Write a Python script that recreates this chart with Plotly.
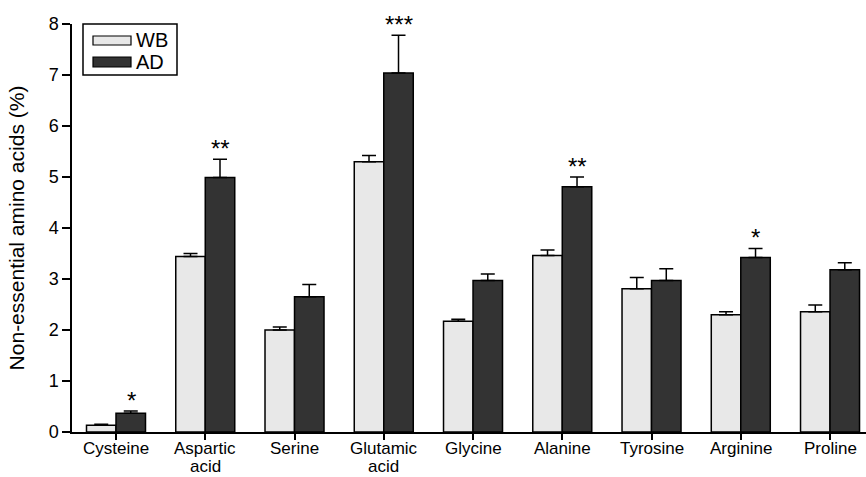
import plotly.graph_objects as go

categories = ["Cysteine", "Aspartic acid", "Serine", "Glutamic acid", "Glycine",
              "Alanine", "Tyrosine", "Arginine", "Proline"]
# how each category label is wrapped onto lines under the axis
label_lines = [["Cysteine"], ["Aspartic", "acid"], ["Serine"], ["Glutamic", "acid"], ["Glycine"],
               ["Alanine"], ["Tyrosine"], ["Arginine"], ["Proline"]]
wb_values = [0.13, 3.44, 2.00, 5.30, 2.17, 3.46, 2.81, 2.30, 2.36]
wb_errors = [0.02, 0.06, 0.06, 0.12, 0.04, 0.11, 0.22, 0.06, 0.13]
ad_values = [0.37, 4.99, 2.65, 7.04, 2.97, 4.81, 2.97, 3.42, 3.18]
ad_errors = [0.04, 0.36, 0.24, 0.74, 0.13, 0.19, 0.23, 0.18, 0.14]
significance = ["*", "**", "", "***", "", "**", "", "*", ""]
y_ticks = [0, 1, 2, 3, 4, 5, 6, 7, 8]

FONT = "Liberation Sans, Arial, Helvetica, sans-serif"
WB_COLOR = "#e8e8e8"
AD_COLOR = "#333333"

fig = go.Figure()
fig.add_trace(go.Bar(
    name="WB", x=categories, y=wb_values,
    marker=dict(color=WB_COLOR, line=dict(color="black", width=1.5)),
    error_y=dict(type="data", array=wb_errors, arrayminus=[0] * len(wb_errors),
                 symmetric=False, color="black", thickness=1.5, width=7),
))
fig.add_trace(go.Bar(
    name="AD", x=categories, y=ad_values,
    marker=dict(color=AD_COLOR, line=dict(color="black", width=1.5)),
    error_y=dict(type="data", array=ad_errors, arrayminus=[0] * len(ad_errors),
                 symmetric=False, color="black", thickness=1.5, width=7),
))

annotations = []
# significance stars above the AD bars
for cat, v, e, s in zip(categories, ad_values, ad_errors, significance):
    if s:
        annotations.append(dict(
            x=cat, y=v + e, xref="x", yref="y", text=s, showarrow=False,
            xshift=15, yshift=-5, yanchor="bottom",
            font=dict(family=FONT, size=24, color="black"),
        ))

# category labels, one annotation per line
for cat, lines in zip(categories, label_lines):
    for i, line in enumerate(lines):
        if i == 0:
            annotations.append(dict(
                x=cat, y=0, xref="x", yref="paper", text=line, showarrow=False,
                yanchor="top", yshift=-6, borderpad=0,
                font=dict(family=FONT, size=17, color="black"),
            ))
        else:
            annotations.append(dict(
                x=cat, y=0, xref="x", yref="paper", text=line, showarrow=False,
                yanchor="bottom", yshift=-44.5, borderpad=0,
                font=dict(family=FONT, size=17, color="black"),
            ))

# custom legend (paper coordinates)
def px_x(p):
    return (p - 72) / 794.0

def px_y(p):
    return (432 - p) / 408.0

shapes = [
    dict(type="rect", xref="paper", yref="paper", x0=px_x(83), x1=px_x(177),
         y0=px_y(75), y1=px_y(24), line=dict(color="black", width=1.5), fillcolor="white"),
    dict(type="rect", xref="paper", yref="paper", x0=px_x(93), x1=px_x(131),
         y0=px_y(45), y1=px_y(36), line=dict(color="black", width=1.2), fillcolor=WB_COLOR),
    dict(type="rect", xref="paper", yref="paper", x0=px_x(93), x1=px_x(131),
         y0=px_y(67), y1=px_y(57), line=dict(color="black", width=1.2), fillcolor=AD_COLOR),
]
for label, yc in [("WB", 40.5), ("AD", 62)]:
    annotations.append(dict(
        x=px_x(134), y=px_y(yc), xref="paper", yref="paper", text=label,
        showarrow=False, xanchor="left", yanchor="middle",
        font=dict(family=FONT, size=20, color="black"),
    ))

fig.update_layout(
    width=866, height=477,
    margin=dict(l=72, r=0, t=24, b=45, autoexpand=False),
    paper_bgcolor="white", plot_bgcolor="white",
    barmode="group", bargap=0.339, bargroupgap=0,
    showlegend=False,
    font=dict(family=FONT, size=17, color="black"),
    shapes=shapes, annotations=annotations,
    xaxis=dict(
        range=[-0.493, 8.403], showline=True, linecolor="black", linewidth=1.5,
        ticks="outside", ticklen=6, tickwidth=1.5, tickcolor="black",
        showgrid=False, zeroline=False, showticklabels=False, automargin=False,
    ),
    yaxis=dict(
        range=[0, 8], tickvals=y_ticks, showline=True, linecolor="black", linewidth=1.5,
        ticks="outside", ticklen=8, tickwidth=1.5, tickcolor="black",
        showgrid=False, zeroline=False, tickfont=dict(size=18), automargin=False,
        title=dict(text="Non-essential amino acids (%)", font=dict(size=21), standoff=18),
    ),
)

fig.write_html("out.html", config={"displayModeBar": False},
               post_script="document.body.style.margin='0';document.body.style.overflow='hidden';")
